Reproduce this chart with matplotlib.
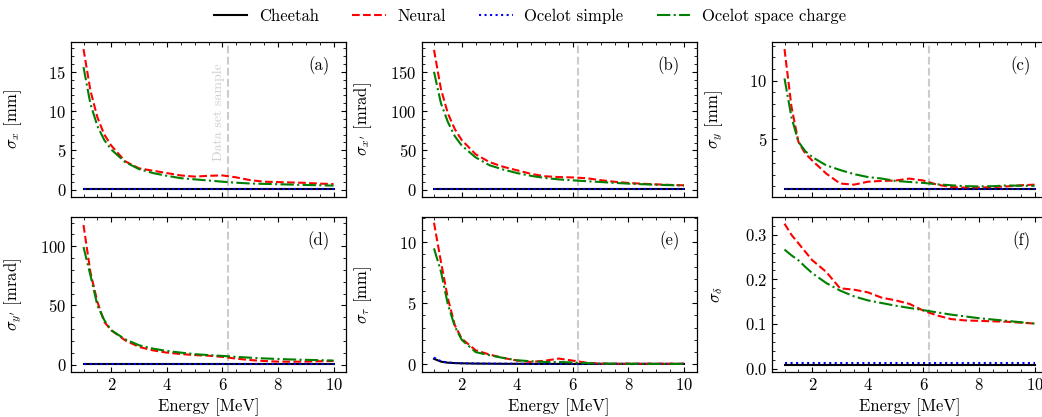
import matplotlib
matplotlib.use("Agg")
import matplotlib.pyplot as plt
from matplotlib.ticker import AutoMinorLocator
import matplotlib.transforms as mtransforms

plt.rcParams.update({
    "font.family": "serif",
    "font.serif": ["cmr10"],
    "mathtext.fontset": "cm",
    "axes.formatter.use_mathtext": True,
    "font.size": 12,
    "xtick.direction": "in",
    "ytick.direction": "in",
    "xtick.top": True,
    "ytick.right": True,
    "xtick.minor.visible": True,
    "ytick.minor.visible": True,
    "xtick.major.size": 3.6,
    "ytick.major.size": 3.6,
    "xtick.minor.size": 2.0,
    "ytick.minor.size": 2.0,
    "axes.linewidth": 0.9,
})

OUT_FILE = "out.png"

# beam energies [MeV]
energy = [1.0, 1.25, 1.5, 1.75, 2.0, 2.5, 3.0, 3.5, 4.0, 4.5, 5.0,
          5.5, 6.0, 6.5, 7.0, 7.5, 8.0, 8.5, 9.0, 9.5, 10.0]
sample_energy = 6.2

# (a) sigma_x [mm]
sx_neural = [17.9, 12.6, 9.2, 7.0, 5.6, 3.6, 2.7, 2.4, 2.1, 1.8, 1.65,
             1.75, 1.8, 1.55, 1.2, 1.0, 0.95, 0.9, 0.85, 0.75, 0.7]
sx_ocelot_sc = [15.6, 10.9, 8.1, 6.3, 5.1, 3.5, 2.6, 2.1, 1.75, 1.45, 1.3,
                1.15, 1.0, 0.87, 0.77, 0.72, 0.68, 0.63, 0.58, 0.55, 0.5]
sx_cheetah = [0.12] * 21
sx_ocelot = [0.12] * 21

# (b) sigma_x' [mrad]
spx_neural = [178, 128, 97, 77, 63, 45, 35, 29, 24.5, 20, 17,
              16, 15.5, 14.5, 12, 10, 8.5, 7.5, 6.7, 6.0, 5.5]
spx_ocelot_sc = [150, 110, 86, 68, 56, 41, 31, 25.5, 21, 17.5, 14.8,
                 13, 11.8, 10.7, 9.7, 8.6, 7.6, 6.9, 6.2, 5.7, 5.2]
spx_cheetah = [0.3] * 21
spx_ocelot = [0.3] * 21

# (c) sigma_y [mm]
sy_neural = [12.7, 7.8, 4.8, 3.8, 3.2, 2.1, 1.25, 1.15, 1.4, 1.47, 1.5,
             1.67, 1.5, 1.15, 0.95, 0.9, 0.9, 0.95, 1.0, 1.1, 1.15]
sy_ocelot_sc = [10.2, 6.9, 4.8, 4.0, 3.5, 2.8, 2.4, 2.05, 1.8, 1.67, 1.47,
                1.38, 1.3, 1.18, 1.1, 1.02, 1.0, 1.02, 1.08, 1.06, 1.05]
sy_cheetah = [0.74] * 21
sy_ocelot = [0.74] * 21

# (d) sigma_y' [mrad]
spy_neural = [118, 78, 53, 36, 29, 20.5, 14.9, 12, 10.1, 8.9, 8.0,
              7.5, 6.5, 5.0, 3.8, 3.0, 2.5, 2.4, 2.5, 2.8, 3.0]
spy_ocelot_sc = [99.4, 75.5, 50, 37.5, 29, 21.4, 16.3, 13.5, 11.5, 10.1, 8.8,
                 8.0, 7.3, 6.5, 5.8, 5.2, 4.7, 4.3, 4.0, 3.7, 3.4]
spy_cheetah = [0.4] * 21
spy_ocelot = [0.4] * 21

# (e) sigma_tau [mm]
st_neural = [11.6, 8.4, 5.4, 3.2, 2.1, 1.15, 0.8, 0.52, 0.3, 0.19, 0.3,
             0.47, 0.3, 0.13, 0.06, 0.05, 0.05, 0.05, 0.05, 0.05, 0.05]
st_ocelot_sc = [9.5, 7.6, 4.9, 3.1, 2.0, 1.0, 0.74, 0.52, 0.33, 0.25, 0.19,
                0.19, 0.15, 0.1, 0.06, 0.05, 0.04, 0.04, 0.03, 0.03, 0.03]
st_cheetah = [0.45, 0.22, 0.13, 0.1, 0.08, 0.06, 0.05, 0.04, 0.04, 0.03, 0.03,
              0.03, 0.03, 0.03, 0.03, 0.03, 0.03, 0.03, 0.03, 0.03, 0.03]
st_ocelot = [0.55, 0.25, 0.15, 0.11, 0.09, 0.07, 0.06, 0.05, 0.05, 0.04, 0.04,
             0.04, 0.04, 0.04, 0.04, 0.04, 0.04, 0.04, 0.04, 0.04, 0.04]

# (f) sigma_delta
sd_neural = [0.325, 0.30, 0.281, 0.262, 0.243, 0.217, 0.18, 0.177, 0.171, 0.159, 0.153,
             0.145, 0.130, 0.119, 0.111, 0.108, 0.107, 0.106, 0.105, 0.103, 0.101]
sd_ocelot_sc = [0.267, 0.254, 0.243, 0.228, 0.214, 0.192, 0.175, 0.162, 0.153, 0.147, 0.141,
                0.136, 0.131, 0.126, 0.121, 0.117, 0.113, 0.110, 0.107, 0.104, 0.101]
sd_cheetah = [0.008] * 21
sd_ocelot = [0.012] * 21

panels = [
    ("(a)", r"$\sigma_x$ [mm]", sx_cheetah, sx_neural, sx_ocelot, sx_ocelot_sc, (-0.95, 18.8)),
    ("(b)", r"$\sigma_{x'}$ [mrad]", spx_cheetah, spx_neural, spx_ocelot, spx_ocelot_sc, (-9.4, 188)),
    ("(c)", r"$\sigma_y$ [mm]", sy_cheetah, sy_neural, sy_ocelot, sy_ocelot_sc, (0.1, 13.3)),
    ("(d)", r"$\sigma_{y'}$ [mrad]", spy_cheetah, spy_neural, spy_ocelot, spy_ocelot_sc, (-6.3, 124.8)),
    ("(e)", r"$\sigma_\tau$ [mm]", st_cheetah, st_neural, st_ocelot, st_ocelot_sc, (-0.63, 12.07)),
    ("(f)", r"$\sigma_\delta$", sd_cheetah, sd_neural, sd_ocelot, sd_ocelot_sc, (-0.0077, 0.34)),
]

W, H = 1042, 417
fig = plt.figure(figsize=(W / 100, H / 100), dpi=100)

col_left = [71, 421.5, 772]
row_bottom = [220, 45]
ax_w, ax_h = 275, 155

for i, (tag, ylabel, cheetah, neural, ocelot, ocelot_sc, ylim) in enumerate(panels):
    r, c = divmod(i, 3)
    ax = fig.add_axes([col_left[c] / W, row_bottom[r] / H, ax_w / W, ax_h / H])
    ax.plot(energy, cheetah, color="black", ls="-", lw=1.5, label="Cheetah")
    ax.plot(energy, neural, color="red", ls="--", lw=1.5, label="Neural")
    ax.plot(energy, ocelot, color="blue", ls=":", lw=1.5, label="Ocelot simple")
    ax.plot(energy, ocelot_sc, color="green", ls="-.", lw=1.5, label="Ocelot space charge")
    ax.axvline(sample_energy, color="#cccccc", ls="--", lw=1.5, zorder=0)
    ax.set_xlim(0.55, 10.45)
    ax.set_ylim(*ylim)
    ax.set_xticks([2, 4, 6, 8, 10])
    ax.xaxis.set_minor_locator(AutoMinorLocator(4))
    ax.yaxis.set_minor_locator(AutoMinorLocator())
    ax.set_ylabel(ylabel)
    ax.yaxis.set_label_coords(-47 / ax_w, 0.5)
    ax.text(0.94, 0.85, tag, transform=ax.transAxes, ha="right", va="center")
    if r == 0:
        ax.tick_params(labelbottom=False)
    else:
        ax.set_xlabel("Energy [MeV]")
    if i == 0:
        trans = mtransforms.blended_transform_factory(ax.transData, ax.transAxes)
        off = mtransforms.offset_copy(trans, fig=fig, x=-3, y=0, units="dots")
        ax.text(sample_energy, 0.545, "Data set sample", transform=off, rotation=90,
                ha="right", va="center", fontsize=10, color="#d0d0d0")
        handles, labels = ax.get_legend_handles_labels()

fig.legend(handles, labels, loc="center", bbox_to_anchor=(530 / W, 1 - 16 / H), ncol=4,
           frameon=False, handlelength=2.0, handletextpad=0.7, columnspacing=2.0)

fig.savefig(OUT_FILE, dpi=100)
